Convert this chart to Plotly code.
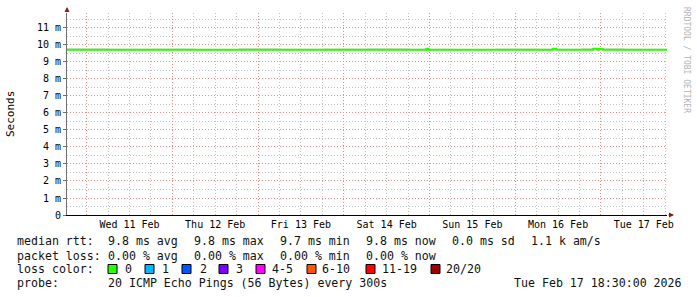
import plotly.graph_objects as go

# ---------------- data ----------------
range_start = "2026-02-10 18:30"
range_end = "2026-02-17 18:30"

median_times = ["2026-02-10 18:30", "2026-02-14 23:05", "2026-02-14 23:45",
                "2026-02-16 10:30", "2026-02-16 11:30", "2026-02-16 21:50",
                "2026-02-16 23:00", "2026-02-16 23:30", "2026-02-17 00:30",
                "2026-02-17 18:30"]
median_ms = [9.72, 9.78, 9.72, 9.78, 9.72, 9.78, 9.72, 9.78, 9.72, 9.72]

smoke_times = ["2026-02-10 18:30", "2026-02-11 06:30", "2026-02-11 18:30",
               "2026-02-12 06:30", "2026-02-12 18:30", "2026-02-13 06:30",
               "2026-02-13 18:30", "2026-02-14 06:30", "2026-02-14 18:30",
               "2026-02-15 06:30", "2026-02-15 18:30", "2026-02-16 06:30",
               "2026-02-16 18:30", "2026-02-17 06:30", "2026-02-17 18:30"]
smoke_hi = [9.80, 9.78, 9.79, 9.77, 9.80, 9.78, 9.79, 9.80, 9.78, 9.77, 9.79, 9.78, 9.80, 9.78, 9.78]
smoke_lo = [9.67, 9.66, 9.68, 9.66, 9.67, 9.68, 9.66, 9.67, 9.66, 9.68, 9.67, 9.66, 9.67, 9.68, 9.68]

day_label_times = ["2026-02-11 12:00", "2026-02-12 12:00", "2026-02-13 12:00",
                   "2026-02-14 12:00", "2026-02-15 12:00", "2026-02-16 12:00",
                   "2026-02-17 12:00"]
day_labels = ["Wed 11 Feb", "Thu 12 Feb", "Fri 13 Feb", "Sat 14 Feb",
              "Sun 15 Feb", "Mon 16 Feb", "Tue 17 Feb"]
day_dates = ["2026-02-11", "2026-02-12", "2026-02-13", "2026-02-14",
             "2026-02-15", "2026-02-16", "2026-02-17"]

y_tick_vals = [0, 1, 2, 3, 4, 5, 6, 7, 8, 9, 10, 11]
y_tick_text = ["0", "1 m", "2 m", "3 m", "4 m", "5 m", "6 m", "7 m", "8 m",
               "9 m", "10 m", "11 m"]

rtt_items = ["9.8 ms avg", "9.8 ms max", "9.7 ms min", "9.8 ms now", "0.0 ms sd", "1.1 k am/s"]
loss_items = ["0.00 % avg", "0.00 % max", "0.00 % min", "0.00 % now"]
loss_labels = ["0", "1", "2", "3", "4-5", "6-10", "11-19", "20/20"]
loss_colors = ["#26ff00", "#00b8ff", "#0059ff", "#7e00ff", "#ff00ff", "#ff5500", "#ff0000", "#a10000"]
probe_text = "20 ICMP Echo Pings (56 Bytes) every 300s"
stamp_text = "Tue Feb 17 18:30:00 2026"

# ---------------- grid positions ----------------
x_major = [d + " 00:00" for d in day_dates]
x_minor = [d + " " + h for d in day_dates for h in ("06:00", "12:00", "18:00")]
y_minor = [v + 0.5 for v in y_tick_vals]

# ---------------- layout geometry ----------------
W, H = 697, 297
L, R, T, B = 67, 30, 13, 82
PW = W - L - R
PH = H - T - B


def px(x):
    return (x - L) / PW


def py(y):
    return (H - B - y) / PH


MONO = "DejaVu Sans Mono"

fig = go.Figure()

# smoke band
fig.add_trace(go.Scatter(x=smoke_times, y=smoke_lo, mode="lines", line=dict(width=0, shape="hv"),
                         showlegend=False, hoverinfo="skip"))
fig.add_trace(go.Scatter(x=smoke_times, y=smoke_hi, mode="lines", line=dict(width=0, shape="hv"),
                         fill="tonexty", fillcolor="#d9d9d9", showlegend=False, hoverinfo="skip"))
# median line
fig.add_trace(go.Scatter(x=median_times, y=median_ms, mode="lines",
                         line=dict(color="#26ff00", width=2, shape="hv"),
                         showlegend=False))
# dummy trace for label axis
fig.add_trace(go.Scatter(x=[], y=[], xaxis="x2", showlegend=False, hoverinfo="skip"))

major_grid = "#ea8a8a"
minor_grid = "#c2c2c2"
dash = "1px,2px"

fig.update_layout(
    width=W, height=H, autosize=False,
    margin=dict(l=L, r=R, t=T, b=B, pad=0),
    paper_bgcolor="white", plot_bgcolor="white",
    xaxis=dict(
        type="date", range=[range_start, range_end],
        tickmode="array", tickvals=x_major,
        showticklabels=False, ticks="",
        showgrid=True, gridcolor=major_grid, griddash=dash, gridwidth=1,
        minor=dict(tickmode="array", tickvals=x_minor,
                   showgrid=True, gridcolor=minor_grid, griddash=dash, gridwidth=1),
        showline=True, linecolor="black", linewidth=1,
        zeroline=False, fixedrange=True,
    ),
    xaxis2=dict(
        type="date", range=[range_start, range_end], overlaying="x", anchor="y", side="bottom",
        tickmode="array", tickvals=day_label_times, ticktext=day_labels,
        showgrid=False, showline=False, ticks="", zeroline=False, ticklabelstandoff=2,
        tickfont=dict(family=MONO, size=10, color="black"),
    ),
    yaxis=dict(
        range=[0, 11.88], tickmode="array", tickvals=y_tick_vals, ticktext=y_tick_text,
        tickfont=dict(family=MONO, size=10, color="black"),
        ticks="outside", ticklen=3, tickcolor="#707070",
        showgrid=True, gridcolor=major_grid, griddash=dash, gridwidth=1,
        minor=dict(tickmode="array", tickvals=y_minor,
                   showgrid=True, gridcolor=minor_grid, griddash=dash, gridwidth=1),
        showline=True, linecolor="#707070", linewidth=1,
        zeroline=False, fixedrange=True,
    ),
    showlegend=False,
)

annotations = []
shapes = []

# axis arrows
annotations.append(dict(x=0, y=py(7), xref="paper", yref="paper", ax=0, ay=6,
                        showarrow=True, arrowhead=2, arrowsize=1, arrowwidth=1,
                        arrowcolor="#8b1a1a", text=""))
annotations.append(dict(x=px(674), y=0, xref="paper", yref="paper", ax=-7, ay=0,
                        showarrow=True, arrowhead=2, arrowsize=1, arrowwidth=1,
                        arrowcolor="#8b1a1a", text=""))

# y axis title
annotations.append(dict(x=px(10), y=py(114), xref="paper", yref="paper", text="Seconds",
                        textangle=-90, showarrow=False, xanchor="center", yanchor="middle",
                        font=dict(family=MONO, size=11, color="black")))
# watermark
annotations.append(dict(x=px(687), y=py(60), xref="paper", yref="paper",
                        text="RRDTOOL / TOBI OETIKER", textangle=90, showarrow=False,
                        xanchor="center", yanchor="middle",
                        font=dict(family=MONO, size=8, color="#b4b4b4")))


def txt(x, y, s):
    annotations.append(dict(x=px(x), y=py(y), xref="paper", yref="paper", text=s,
                            showarrow=False, xanchor="left", yanchor="middle",
                            font=dict(family=MONO, size=11.6, color="#111111")))


row_y = [241.5, 255.5, 269, 283]
item_x = [107, 193, 279, 365, 451, 530]

txt(15, row_y[0], "median rtt:")
for xv, s in zip(item_x, rtt_items):
    txt(xv - 1, row_y[0], s)

txt(15, row_y[1], "packet loss:")
for xv, s in zip(item_x, loss_items):
    txt(xv - 1, row_y[1], s)

txt(15, row_y[2], "loss color:")
box_x = [108, 145, 182, 219, 256, 307, 366, 431]
lab_x = [123, 160, 198, 234, 270, 320, 380, 444]
for bx, lx, lab, col in zip(box_x, lab_x, loss_labels, loss_colors):
    shapes.append(dict(type="rect", xref="paper", yref="paper",
                       x0=px(bx), x1=px(bx + 9), y0=py(273.5), y1=py(264.5),
                       fillcolor=col, line=dict(color="black", width=1)))
    txt(lx, row_y[2], lab)

txt(15, row_y[3], "probe:")
txt(106, row_y[3], probe_text)
txt(512, row_y[3], stamp_text)

fig.update_layout(annotations=annotations, shapes=shapes)

fig.write_html("out.html")
